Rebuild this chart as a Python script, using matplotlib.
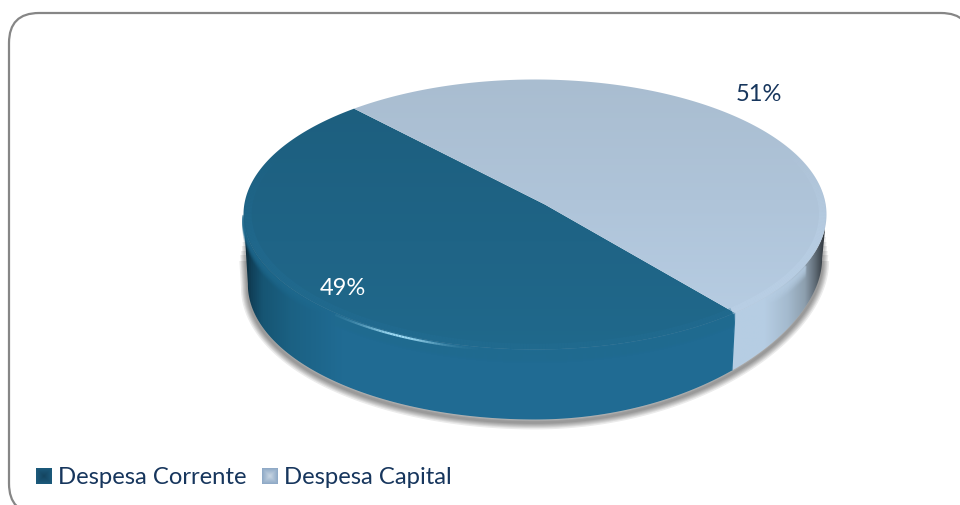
#! /usr/bin/env python

import numpy as np

import matplotlib as mpl
mpl.use('agg')
import matplotlib.pyplot as plt
from matplotlib.colors import LinearSegmentedColormap, to_rgb
from matplotlib.patches import FancyBboxPatch, Polygon, Rectangle

categories = ['Despesa Corrente', 'Despesa Capital']
values = [49, 51]
labels = ['49%', '51%']

start_angle = 132.6
cx, cy, rx, ry = 535.0, 215.5, 291.5, 135.0
apex = np.array([0.034, 0.074])  # centre of the disc as seen in perspective


def to_pixels(x, y):
    # hyperbolic shift of the unit disc: a perspective view of a flat circle
    p = np.hypot(*apex)
    e = apex / p
    a = x * e[0] + y * e[1]
    b = -x * e[1] + y * e[0]
    a2 = (a + p) / (1 + p * a)
    b2 = b * np.sqrt(1 - p * p) / (1 + p * a)
    return cx + rx * (a2 * e[0] - b2 * e[1]), cy - ry * (a2 * e[1] + b2 * e[0])


def arc(t0, t1, n=300, r=1.0):
    t = np.radians(np.linspace(t0, t1, n))
    return to_pixels(r * np.cos(t), r * np.sin(t))


def thickness(x):
    u = np.maximum((x - cx) / rx, 0)
    return 70 - 26 * u ** 2


def wall(x, y):
    # bottom edge of the wall is a little narrower than the top
    bx = cx + (x - cx) * 0.985
    return np.column_stack([np.r_[x, bx[::-1]], np.r_[y, (y + thickness(x))[::-1]]])


def gradient(ax, stops, extent, clip, horizontal=True, zorder=2):
    cmap = LinearSegmentedColormap.from_list('g', stops)
    ramp = np.linspace(0, 1, 512)
    img = ramp[None, :] if horizontal else ramp[:, None]
    im = ax.imshow(img, extent=extent, cmap=cmap, aspect='auto', origin='upper',
                   vmin=0, vmax=1, zorder=zorder, interpolation='bilinear')
    clip.set_transform(ax.transData)
    im.set_clip_path(clip)


def stops(xs, cols):
    xs = np.array(xs, dtype=float)
    return list(zip((xs - xs[0]) / (xs[-1] - xs[0]), cols))


def faded_line(ax, x, y, fade, color, lw, zorder=4):
    for i in range(len(x) - 1):
        if fade[i] > 0.004:
            ax.plot(x[i:i + 2], y[i:i + 2], color=color, lw=lw, alpha=float(fade[i]),
                    zorder=zorder, solid_capstyle='butt')


def swatch(ax, x, y, edge, mid, s=16):
    g = np.linspace(-1, 1, 32)
    xx, yy = np.meshgrid(g, g)
    m = np.maximum(np.abs(xx), np.abs(yy))[:, :, None]
    img = np.array(to_rgb(mid)) * (1 - m) + np.array(to_rgb(edge)) * m
    ax.imshow(img, extent=(x, x + s, y + s, y), aspect='auto', zorder=5)


fig = plt.figure(figsize=(9.6, 5.06), dpi=100)
ax = fig.add_axes([0, 0, 1, 1])
ax.axis('off')

frame = FancyBboxPatch((9, 14), 962, 500.5, boxstyle='round,pad=0,rounding_size=30',
                       fc='white', ec='#868686', lw=1.6, zorder=0)
ax.add_patch(frame)

# slice angles
sweep = [360.0 * v / sum(values) for v in values]
a0 = start_angle
a1 = a0 + sweep[0]
a2 = a1 + sweep[1]

lx, ly = arc(a0, a1)
rx2, ry2 = arc(a1, a2)

left_i = np.argmin(lx)
wx, wy = lx[left_i:], ly[left_i:]
dark_wall = wall(wx, wy)

right_i = np.argmax(rx2)
vx, vy = rx2[:right_i + 1], ry2[:right_i + 1]
light_wall = wall(vx, vy)

# soft shadow under the wall, tapering away towards the rim
whole = wall(np.r_[wx, vx], np.r_[wy, vy])
for lw in [10, 8, 6.5, 5, 3.5, 2]:
    shadow = Polygon(whole + [0, 3], closed=True, fc='none', ec='k', lw=lw,
                     alpha=0.08, zorder=1, joinstyle='round')
    ax.add_patch(shadow)
    shadow.set_clip_path(Rectangle((200, 232 + lw * 3), 680, 220, transform=ax.transData))

# walls
dark_side = stops([243, 250, 262, 290, 340, 745],
                  ['#0b2735', '#103f58', '#165573', '#1b6183', '#206b93', '#216c94'])
gradient(ax, dark_side, (243, 745, 430, 200),
         Polygon(dark_wall, closed=True), zorder=2)
light_side = stops([725, 765, 788, 805, 815, 825],
                   ['#b6cee4', '#b6cde3', '#a4bace', '#8d9fae', '#616d78', '#2c3238'])
gradient(ax, light_side, (725, 825, 430, 200),
         Polygon(light_wall, closed=True), zorder=2)

# close the seam between the two walls
bx = cx + (wx[-1] - cx) * 0.985
ax.plot([wx[-1], bx], [wy[-1], wy[-1] + thickness(wx[-1])], color='#216c94', lw=1,
        zorder=2.2, solid_capstyle='butt')

# rounded shoulder at the top of the walls
for off in range(1, 13):
    fade = 0.45 * (1 - off / 13.0)
    ax.plot(wx, wy + off, color='#1f6a8f', lw=2, alpha=fade, zorder=2.5,
            solid_capstyle='butt')
    keep = vx < 806
    ax.plot(vx[keep], vy[keep] + off, color='#b6cde3', lw=2, alpha=fade, zorder=2.5,
            solid_capstyle='butt')

# top faces
px, py = to_pixels(0.0, 0.0)
dark_top = np.column_stack([np.r_[px, lx], np.r_[py, ly]])
light_top = np.column_stack([np.r_[px, rx2], np.r_[py, ry2]])
gradient(ax, [(0, '#1d5f7f'), (0.55, '#1f6486'), (1, '#20698c')], (240, 745, 355, 105),
         Polygon(dark_top, closed=True), horizontal=False, zorder=3)
gradient(ax, [(0, '#a9bdd0'), (0.5, '#afc4d9'), (1, '#b7cde3')], (350, 832, 325, 78),
         Polygon(light_top, closed=True), horizontal=False, zorder=3)

# bevel just inside the rim, fading out towards the back
ix, iy = arc(a0, a1, r=0.985)
faded_line(ax, ix, iy, 0.35 * np.clip((iy - (cy - 70)) / 90.0, 0, 1), '#236f96', 5)
jx, jy = arc(a1, a2, r=0.985)
faded_line(ax, jx, jy, 0.45 * np.clip((jy - (cy - 70)) / 90.0, 0, 1), '#bdd3e9', 5)

# highlight on the near rim of the dark slice
mask = (lx > 335) & (lx < 480) & (ly > cy)
sx, sy = lx[mask], ly[mask] + 2
faded_line(ax, sx, sy, np.exp(-((sx - 398) / 38.0) ** 2), '#9fdcf5', 1.6)

ax.text(343, 288.5, labels[0], color='white', fontsize=17, family='Lato',
        ha='center', va='center', zorder=6)
ax.text(759, 94.5, labels[1], color='#17365d', fontsize=17, family='Lato',
        ha='center', va='center', zorder=6)

# legend
swatch(ax, 36, 469, '#1c5a7c', '#14445f')
ax.text(58, 478, categories[0], color='#17365d', fontsize=17.2, family='Lato',
        ha='left', va='center', zorder=6)
swatch(ax, 262, 469, '#8ea9c6', '#c9d6e3')
ax.text(284, 478, categories[1], color='#17365d', fontsize=17.2, family='Lato',
        ha='left', va='center', zorder=6)

ax.set_xlim(0, 960)
ax.set_ylim(506, 0)
fig.savefig('out.png', dpi=100)
